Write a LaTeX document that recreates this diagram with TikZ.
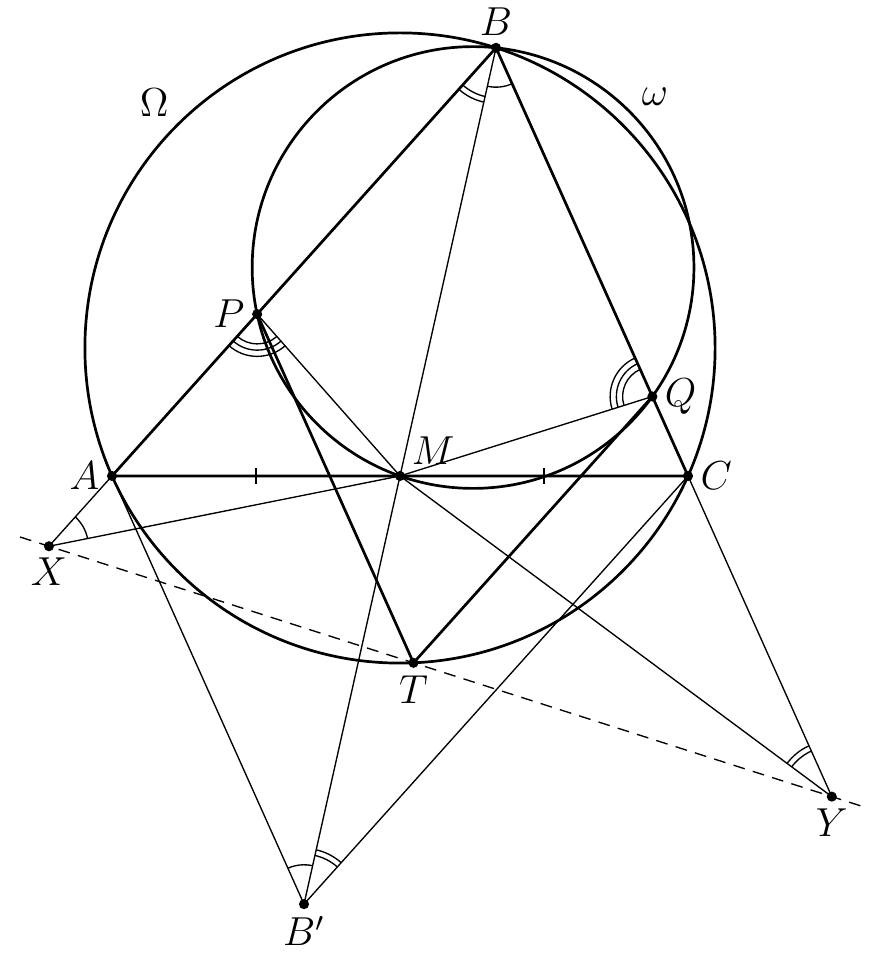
\documentclass[tikz,border=0pt]{standalone}
\usepackage{amsmath,amssymb,amsfonts}
\usepackage{tkz-euclide}
\usetikzlibrary{calc}

\begin{document}
\begin{tikzpicture}[font=\large]
\useasboundingbox (-1.1667,-5.021) rectangle (7.979,4.958);
        \coordinate (A) at (0, 0) {};
        \coordinate (B) at (4, 4.46) {};
        \coordinate (C) at (6, 0) {};
        \coordinate (M) at (3, 0) {};
        \coordinate (Bp) at (2, -4.46) {};
        \coordinate (O) at (3, 1.3331) {};
        \coordinate (W) at (3.7609, 2.1715) {};
        \coordinate (P) at (1.5119, 1.6857) {};
        \coordinate (Q) at (5.6288, 0.8278) {};
        \coordinate (T) at (3.1406, -1.9465) {};
        \coordinate (X) at (-0.6566, -0.7321) {};
        \coordinate (Y) at (7.4977, -3.3399) {};
\tkzDrawCircle[thick,black](O,A)
\tkzDrawCircle[thick,black](W,B)
\draw[thick] (A)node[left](nA){$A$}--(B)node[above](nB){$B$}--(C)node[right](nC){$C$}--cycle;
\draw[thick] (P)node[left](nP){$P$}--(T)node[below](nT){$T$}--(Q)node[right](nQ){$Q$};
\draw (B)--(Bp)node[below](nBp){$B'$};
\draw (A)--(Bp)--(C);
\draw (X)node[below](nX){$X$}--(A);
\draw (C)--(Y)node[below](nY){$Y$};
\draw (X)--(M)--(Q);
\draw (P)--(M)--(Y);
\draw[dash pattern=on 3.5pt off 2.5pt] ($(X)!-0.037!(Y)$)--($(Y)!-0.037!(X)$);
\node[above right](nM) at (M) {$M$};
\node (nOm) at (0.44, 3.885) {$\Omega$};
\node (nom) at (5.656, 3.948) {$\omega$};
\tkzMarkSegments[mark=|,size=2.5pt,black](A,M M,C)
% single arcs
\tkzMarkAngle[size=.41,black](M,B,C)
\tkzMarkAngle[size=.41,black](B,Bp,A)
\tkzMarkAngle[size=.41,black](M,X,A)
% double arcs
\foreach \r in {.52,.58}{
\tkzMarkAngle[size=\r,black](A,B,M)
\tkzMarkAngle[size=\r,black](C,Bp,B)
\tkzMarkAngle[size=\r,black](C,Y,M)
}
% triple arcs
\foreach \r in {.31,.375,.44}{
\tkzMarkAngle[size=\r,black](A,P,M)
\tkzMarkAngle[size=\r,black](B,Q,M)
}
\foreach \p in {A,B,C,M,P,Q,T,X,Y,Bp} \fill (\p) circle (1.5pt);
\end{tikzpicture}
\end{document}
